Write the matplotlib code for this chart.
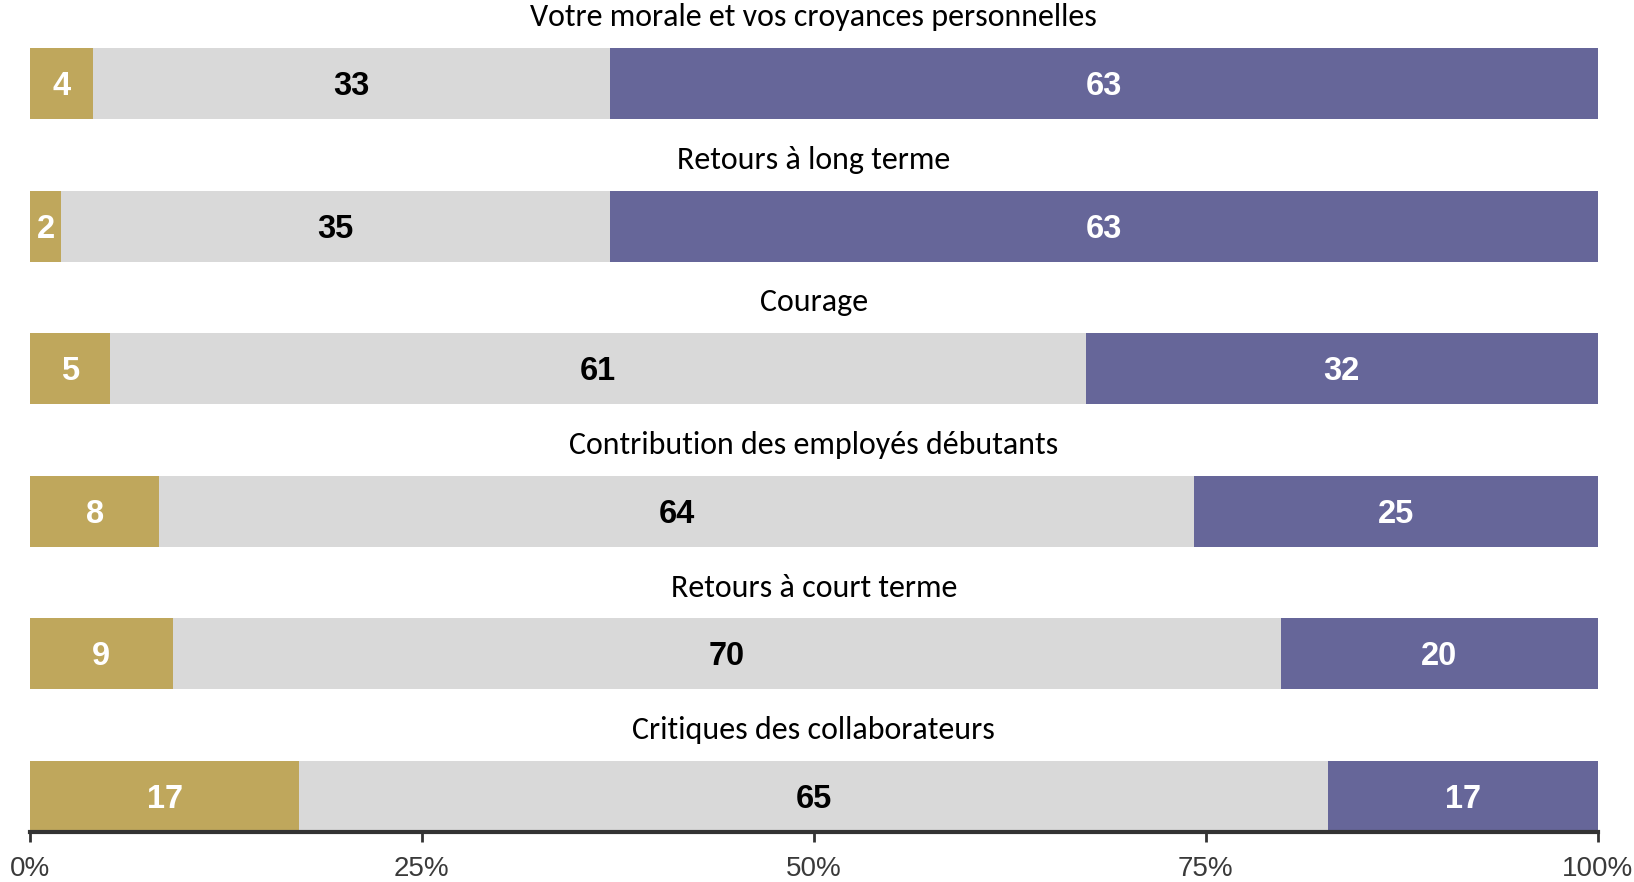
import matplotlib
matplotlib.use("Agg")
import matplotlib.pyplot as plt
import numpy as np

categories = [
    "Votre morale et vos croyances personnelles",
    "Retours à long terme",
    "Courage",
    "Contribution des employés débutants",
    "Retours à court terme",
    "Critiques des collaborateurs",
]
gold_vals = [4, 2, 5, 8, 9, 17]
gray_vals = [33, 35, 61, 64, 70, 65]
purple_vals = [63, 63, 32, 25, 20, 17]
tick_labels = ["0%", "25%", "50%", "75%", "100%"]

GOLD = "#BFA75C"
GRAY = "#D9D9D9"
PURPLE = "#666699"

num_font = ["Liberation Sans", "DejaVu Sans"]
title_font = ["Carlito", "DejaVu Sans"]

fig = plt.figure(figsize=(16.34, 8.82), dpi=100)
ax = fig.add_axes([30 / 1634, 1 - 832 / 882, (1597.5 - 30) / 1634, (832 - 48) / 882])

n = len(categories)
ys = np.arange(n)[::-1]  # top row highest
g = np.array(gold_vals, float)
m = np.array(gray_vals, float)
p = np.array(purple_vals, float)
tot = g + m + p
gn, mn, pn = g / tot, m / tot, p / tot

h = 0.5
ax.barh(ys, gn, height=h, color=GOLD, linewidth=0)
ax.barh(ys, mn, left=gn, height=h, color=GRAY, linewidth=0)
ax.barh(ys, pn, left=gn + mn, height=h, color=PURPLE, linewidth=0)

dy = -0.02
for i, y in enumerate(ys):
    ax.text(gn[i] / 2, y + dy, str(gold_vals[i]), ha="center", va="center",
            color="white", fontsize=23.5, fontweight="bold", family=num_font)
    ax.text(gn[i] + mn[i] / 2, y + dy, str(gray_vals[i]), ha="center", va="center",
            color="black", fontsize=23.5, fontweight="bold", family=num_font)
    ax.text(gn[i] + mn[i] + pn[i] / 2, y + dy, str(purple_vals[i]), ha="center", va="center",
            color="white", fontsize=23.5, fontweight="bold", family=num_font)
    ax.text(0.5, y + h / 2 + 0.215, categories[i], ha="center", va="center",
            color="black", fontsize=23, family=title_font)

ax.set_xlim(0, 1)
ax.set_ylim(-0.25, n - 1 + 0.25)
ax.set_yticks([])
ax.set_xticks(np.linspace(0, 1, len(tick_labels)))
ax.set_xticklabels(tick_labels, family=num_font, fontsize=20, color="#3a3a3a")
for s in ["top", "right", "left"]:
    ax.spines[s].set_visible(False)
ax.spines["bottom"].set_linewidth(3)
ax.spines["bottom"].set_color("#333333")
ax.tick_params(axis="x", length=7, width=2, color="#333333", pad=10)
ax.set_facecolor("white")

fig.savefig("out.png", dpi=100, facecolor="white")
